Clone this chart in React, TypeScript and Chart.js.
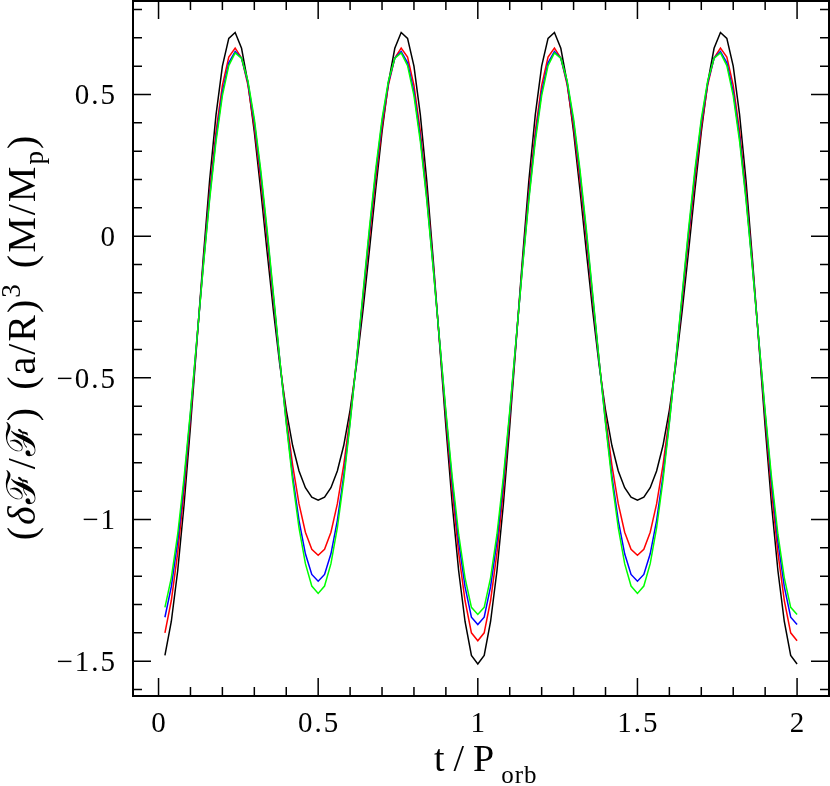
import React, { useEffect, useRef } from "react";
import { Chart, registerables } from "chart.js";

Chart.register(...registerables);

// orbital phase t / P_orb
const tValues = [
  0.02, 0.04, 0.06, 0.08, 0.10, 0.12, 0.14, 0.16, 0.18, 0.20,
  0.22, 0.24, 0.26, 0.28, 0.30, 0.32, 0.34, 0.36, 0.38, 0.40,
  0.42, 0.44, 0.46, 0.48, 0.50, 0.52, 0.54, 0.56, 0.58, 0.60,
  0.62, 0.64, 0.66, 0.68, 0.70, 0.72, 0.74, 0.76, 0.78, 0.80,
  0.82, 0.84, 0.86, 0.88, 0.90, 0.92, 0.94, 0.96, 0.98, 1.00,
  1.02, 1.04, 1.06, 1.08, 1.10, 1.12, 1.14, 1.16, 1.18, 1.20,
  1.22, 1.24, 1.26, 1.28, 1.30, 1.32, 1.34, 1.36, 1.38, 1.40,
  1.42, 1.44, 1.46, 1.48, 1.50, 1.52, 1.54, 1.56, 1.58, 1.60,
  1.62, 1.64, 1.66, 1.68, 1.70, 1.72, 1.74, 1.76, 1.78, 1.80,
  1.82, 1.84, 1.86, 1.88, 1.90, 1.92, 1.94, 1.96, 1.98, 2.00,
];

const blackSeries = [
  -1.480, -1.360, -1.181, -0.947, -0.672, -0.375, -0.078, 0.197, 0.428, 0.600,
  0.698, 0.719, 0.663, 0.541, 0.368, 0.163, -0.055, -0.265, -0.455, -0.614,
  -0.739, -0.829, -0.888, -0.921, -0.932, -0.921, -0.888, -0.829, -0.739, -0.614,
  -0.455, -0.265, -0.055, 0.163, 0.368, 0.541, 0.663, 0.719, 0.698, 0.600,
  0.428, 0.197, -0.078, -0.375, -0.672, -0.947, -1.181, -1.360, -1.480, -1.510,
  -1.480, -1.360, -1.181, -0.947, -0.672, -0.375, -0.078, 0.197, 0.428, 0.600,
  0.698, 0.719, 0.663, 0.541, 0.368, 0.163, -0.055, -0.265, -0.455, -0.614,
  -0.739, -0.829, -0.888, -0.921, -0.932, -0.921, -0.888, -0.829, -0.739, -0.614,
  -0.455, -0.265, -0.055, 0.163, 0.368, 0.541, 0.663, 0.719, 0.698, 0.600,
  0.428, 0.197, -0.078, -0.375, -0.672, -0.947, -1.181, -1.360, -1.480, -1.510,
];

const redSeries = [
  -1.400, -1.286, -1.118, -0.898, -0.642, -0.369, -0.097, 0.156, 0.370, 0.532,
  0.632, 0.664, 0.629, 0.533, 0.385, 0.199, -0.011, -0.229, -0.442, -0.638,
  -0.808, -0.945, -1.045, -1.105, -1.126, -1.105, -1.045, -0.945, -0.808, -0.638,
  -0.442, -0.229, -0.011, 0.199, 0.385, 0.533, 0.629, 0.664, 0.632, 0.532,
  0.370, 0.156, -0.097, -0.369, -0.642, -0.898, -1.118, -1.286, -1.400, -1.428,
  -1.400, -1.286, -1.118, -0.898, -0.642, -0.369, -0.097, 0.156, 0.370, 0.532,
  0.632, 0.664, 0.629, 0.533, 0.385, 0.199, -0.011, -0.229, -0.442, -0.638,
  -0.808, -0.945, -1.045, -1.105, -1.126, -1.105, -1.045, -0.945, -0.808, -0.638,
  -0.442, -0.229, -0.011, 0.199, 0.385, 0.533, 0.629, 0.664, 0.632, 0.532,
  0.370, 0.156, -0.097, -0.369, -0.642, -0.898, -1.118, -1.286, -1.400, -1.428,
];

const blueSeries = [
  -1.345, -1.237, -1.077, -0.869, -0.626, -0.366, -0.105, 0.138, 0.347, 0.509,
  0.612, 0.652, 0.628, 0.542, 0.403, 0.222, 0.011, -0.214, -0.441, -0.655,
  -0.846, -1.004, -1.121, -1.194, -1.218, -1.194, -1.121, -1.004, -0.846, -0.655,
  -0.441, -0.214, 0.011, 0.222, 0.403, 0.542, 0.628, 0.652, 0.612, 0.509,
  0.347, 0.138, -0.105, -0.366, -0.626, -0.869, -1.077, -1.237, -1.345, -1.371,
  -1.345, -1.237, -1.077, -0.869, -0.626, -0.366, -0.105, 0.138, 0.347, 0.509,
  0.612, 0.652, 0.628, 0.542, 0.403, 0.222, 0.011, -0.214, -0.441, -0.655,
  -0.846, -1.004, -1.121, -1.194, -1.218, -1.194, -1.121, -1.004, -0.846, -0.655,
  -0.441, -0.214, 0.011, 0.222, 0.403, 0.542, 0.628, 0.652, 0.612, 0.509,
  0.347, 0.138, -0.105, -0.366, -0.626, -0.869, -1.077, -1.237, -1.345, -1.371,
];

const greenSeries = [
  -1.310, -1.206, -1.052, -0.851, -0.617, -0.364, -0.110, 0.128, 0.334, 0.496,
  0.602, 0.647, 0.628, 0.548, 0.414, 0.235, 0.024, -0.205, -0.438, -0.661,
  -0.862, -1.030, -1.156, -1.235, -1.261, -1.235, -1.156, -1.030, -0.862, -0.661,
  -0.438, -0.205, 0.024, 0.235, 0.414, 0.548, 0.628, 0.647, 0.602, 0.496,
  0.334, 0.128, -0.110, -0.364, -0.617, -0.851, -1.052, -1.206, -1.310, -1.335,
  -1.310, -1.206, -1.052, -0.851, -0.617, -0.364, -0.110, 0.128, 0.334, 0.496,
  0.602, 0.647, 0.628, 0.548, 0.414, 0.235, 0.024, -0.205, -0.438, -0.661,
  -0.862, -1.030, -1.156, -1.235, -1.261, -1.235, -1.156, -1.030, -0.862, -0.661,
  -0.438, -0.205, 0.024, 0.235, 0.414, 0.548, 0.628, 0.647, 0.602, 0.496,
  0.334, 0.128, -0.110, -0.364, -0.617, -0.851, -1.052, -1.206, -1.310, -1.335,
];

const xMajorTicks = [0, 0.5, 1, 1.5, 2];
const xTickLabels = ["0", "0.5", "1", "1.5", "2"];
const xMinorTicks = [
  0.1, 0.2, 0.3, 0.4, 0.6, 0.7, 0.8, 0.9, 1.1, 1.2, 1.3, 1.4, 1.6, 1.7, 1.8, 1.9,
];
const yMajorTicks = [-1.5, -1, -0.5, 0, 0.5];
const yTickLabels = ["\u22121.5", "\u22121", "\u22120.5", "0", "0.5"];
const yMinorTicks = [
  -1.6, -1.4, -1.3, -1.2, -1.1, -0.9, -0.8, -0.7, -0.6, -0.4, -0.3, -0.2, -0.1,
  0.1, 0.2, 0.3, 0.4, 0.6, 0.7, 0.8,
];

const SERIF = '"Liberation Serif", "DejaVu Serif", serif';

type Run = { t?: string; font?: string; dy?: number; gap?: number };

function measureRuns(ctx: CanvasRenderingContext2D, runs: Run[]) {
  let w = 0;
  for (const r of runs) {
    if (r.gap) {
      w += r.gap;
      continue;
    }
    ctx.font = r.font!;
    w += ctx.measureText(r.t!).width;
  }
  return w;
}

function drawRuns(ctx: CanvasRenderingContext2D, runs: Run[]) {
  let x = 0;
  for (const r of runs) {
    if (r.gap) {
      x += r.gap;
      continue;
    }
    ctx.font = r.font!;
    ctx.fillText(r.t!, x, r.dy || 0);
    x += ctx.measureText(r.t!).width;
  }
}

const framePlugin = {
  id: "frameTicks",
  afterDraw(chart: any) {
    const { ctx, chartArea: a, scales } = chart;
    const xs = scales.x;
    const ys = scales.y;
    ctx.save();
    ctx.strokeStyle = "#000";
    ctx.lineCap = "butt";
    ctx.lineWidth = 1.5;
    const vline = (px: number, len: number) => {
      ctx.beginPath();
      ctx.moveTo(px, a.bottom);
      ctx.lineTo(px, a.bottom - len);
      ctx.moveTo(px, a.top);
      ctx.lineTo(px, a.top + len);
      ctx.stroke();
    };
    const hline = (py: number, len: number) => {
      ctx.beginPath();
      ctx.moveTo(a.left, py);
      ctx.lineTo(a.left + len, py);
      ctx.moveTo(a.right, py);
      ctx.lineTo(a.right - len, py);
      ctx.stroke();
    };
    xMinorTicks.forEach((v) => vline(xs.getPixelForValue(v), 9));
    xMajorTicks.forEach((v) => vline(xs.getPixelForValue(v), 18));
    yMinorTicks.forEach((v) => hline(ys.getPixelForValue(v), 9));
    yMajorTicks.forEach((v) => hline(ys.getPixelForValue(v), 18));
    ctx.lineWidth = 2;
    ctx.strokeRect(a.left, a.top, a.right - a.left, a.bottom - a.top);

    // tick labels
    ctx.fillStyle = "#000";
    (ctx as any).letterSpacing = "2px";
    ctx.font = `29px ${SERIF}`;
    ctx.textBaseline = "alphabetic";
    ctx.textAlign = "center";
    xMajorTicks.forEach((v, i) => {
      ctx.fillText(xTickLabels[i], xs.getPixelForValue(v) + 1, a.bottom + 36);
    });
    ctx.textAlign = "right";
    yMajorTicks.forEach((v, i) => {
      ctx.fillText(yTickLabels[i], a.left - 16, ys.getPixelForValue(v) + 10);
    });

    // x title: t/P_orb
    ctx.textAlign = "left";
    ctx.save();
    ctx.translate(434, 771);
    (ctx as any).letterSpacing = "9px";
    ctx.font = `38px ${SERIF}`;
    ctx.fillText("t/P", 0, 0);
    const w0 = ctx.measureText("t/P").width;
    (ctx as any).letterSpacing = "1px";
    ctx.font = `25px ${SERIF}`;
    ctx.fillText("orb", w0 - 2, 12);
    ctx.restore();

    // y title (rotated)
    (ctx as any).letterSpacing = "2px";
    const F = `40px ${SERIF}`;
    const FI = `italic 40px ${SERIF}`;
    const FS = `27px ${SERIF}`;
    const yRuns: Run[] = [
      { t: "(", font: F },
      { t: "\u03b4", font: FI },
      { t: "\u2131/\u2131)", font: F },
      { gap: 16 },
      { t: "(a/R)", font: F },
      { t: "3", font: FS, dy: -15 },
      { gap: 14 },
      { t: "(M/M", font: F },
      { t: "p", font: FS, dy: 8 },
      { t: ")", font: F },
    ];
    const total = measureRuns(ctx, yRuns);
    ctx.save();
    ctx.translate(35, 337 + total / 2);
    ctx.rotate(-Math.PI / 2);
    drawRuns(ctx, yRuns);
    ctx.restore();

    ctx.restore();
  },
};

export default function App() {
  const canvasRef = useRef<HTMLCanvasElement | null>(null);

  useEffect(() => {
    const canvas = canvasRef.current;
    if (!canvas) return;
    const mk = (vals: number[]) => tValues.map((t, i) => ({ x: t, y: vals[i] }));
    const chart = new Chart(canvas, {
      type: "line",
      data: {
        datasets: [
          { data: mk(blackSeries), borderColor: "#000000", order: 4 },
          { data: mk(redSeries), borderColor: "#ff0000", order: 3 },
          { data: mk(blueSeries), borderColor: "#0000ff", order: 2 },
          { data: mk(greenSeries), borderColor: "#00ff00", order: 1 },
        ].map((d) => ({
          ...d,
          borderWidth: 1.5,
          pointRadius: 0,
          fill: false,
          tension: 0,
        })),
      },
      options: {
        animation: false,
        responsive: false,
        devicePixelRatio: 1,
        layout: { padding: { left: 133, right: 1, top: 1, bottom: 90 } },
        plugins: {
          legend: { display: false },
          tooltip: { enabled: false },
        },
        scales: {
          x: { type: "linear", min: -0.08, max: 2.1, display: false },
          y: { type: "linear", min: -1.623, max: 0.83, display: false },
        },
      },
      plugins: [framePlugin],
    } as any);
    return () => chart.destroy();
  }, []);

  return (
    <div style={{ position: "absolute", left: 0, top: 0, width: 830, height: 786, background: "#fff" }}>
      <canvas ref={canvasRef} width={830} height={786} style={{ width: 830, height: 786, display: "block" }} />
    </div>
  );
}
